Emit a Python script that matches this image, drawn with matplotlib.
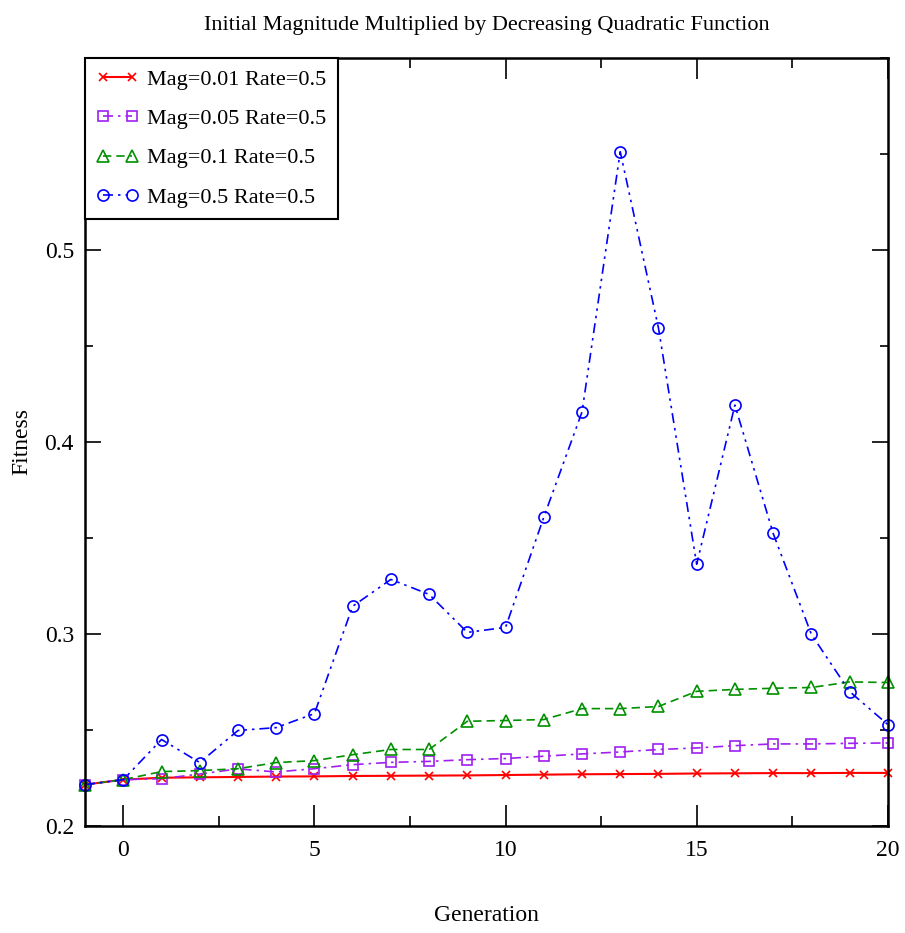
import numpy as np
import matplotlib
matplotlib.use("Agg")
import matplotlib.pyplot as plt
from matplotlib.ticker import MultipleLocator

plt.rcParams['font.family'] = ['Liberation Serif', 'DejaVu Serif']

generation = np.arange(-1, 21)

mag_001 = [0.2214, 0.2240, 0.2250, 0.2252, 0.2254, 0.2256, 0.2257, 0.2259, 0.2260, 0.2261, 0.2262,
           0.2264, 0.2266, 0.2268, 0.2269, 0.2270, 0.2272, 0.2273, 0.2274, 0.2274, 0.2275, 0.2275]
mag_005 = [0.2214, 0.2240, 0.2245, 0.2269, 0.2296, 0.2280, 0.2297, 0.2318, 0.2330, 0.2335, 0.2344,
           0.2350, 0.2362, 0.2374, 0.2384, 0.2397, 0.2405, 0.2417, 0.2426, 0.2426, 0.2429, 0.2431]
mag_01 = [0.2214, 0.2240, 0.2282, 0.2287, 0.2297, 0.2329, 0.2339, 0.2370, 0.2397, 0.2397, 0.2544,
          0.2548, 0.2553, 0.2610, 0.2610, 0.2621, 0.2700, 0.2710, 0.2716, 0.2720, 0.2749, 0.2746]
mag_05 = [0.2214, 0.2240, 0.2449, 0.2329, 0.2496, 0.2511, 0.2584, 0.3143, 0.3283, 0.3205, 0.3007,
          0.3033, 0.3607, 0.4155, 0.5511, 0.4593, 0.3362, 0.4191, 0.3523, 0.2997, 0.2699, 0.2527]

labels = ['Mag=0.01 Rate=0.5', 'Mag=0.05 Rate=0.5', 'Mag=0.1 Rate=0.5', 'Mag=0.5 Rate=0.5']

fig = plt.figure(figsize=(9.05, 9.33), dpi=100)
ax = fig.add_axes([0.094, 0.115, 0.887, 0.823])

ax.plot(generation, mag_001, color='#ff0000', ls='-', lw=1.5, marker='x', ms=6, mew=1.2,
        clip_on=False, label=labels[0])
ax.plot(generation, mag_005, color='#a020f0', ls=(0, (6, 3, 1.5, 3)), lw=1.2, marker='s', ms=7,
        mfc='none', mew=1.2, clip_on=False, label=labels[1])
ax.plot(generation, mag_01, color='#009000', ls=(0, (5, 3)), lw=1.2, marker='^', ms=8,
        mfc='none', mew=1.2, clip_on=False, label=labels[2])
ax.plot(generation, mag_05, color='#0000ff', ls=(0, (6, 3, 1.5, 3, 1.5, 3)), lw=1.2, marker='o', ms=8,
        mfc='none', mew=1.2, clip_on=False, label=labels[3])

ax.set_xlim(-1, 20)
ax.set_ylim(0.2, 0.6)
ax.set_xticks([0, 5, 10, 15, 20])
ax.xaxis.set_minor_locator(MultipleLocator(2.5))
ax.set_yticks([0.2, 0.3, 0.4, 0.5])
ax.set_yticklabels(['0.2', '0.3', '0.4', '0.5'])
ax.yaxis.set_minor_locator(MultipleLocator(0.05))
ax.tick_params(which='both', direction='in', top=True, right=True, labelsize=17, width=1.2)
ax.tick_params(axis='x', which='major', length=15, pad=10)
ax.tick_params(axis='x', which='minor', length=7.5)
ax.tick_params(axis='y', which='major', length=11.5, pad=8)
ax.tick_params(axis='y', which='minor', length=5.8)
for s in ax.spines.values():
    s.set_linewidth(1.8)

ax.set_title('Initial Magnitude Multiplied by Decreasing Quadratic Function', fontsize=16, pad=20)
ax.set_xlabel('Generation', fontsize=17, labelpad=32)
ax.set_ylabel('Fitness', fontsize=17)
ax.yaxis.set_label_coords(-0.066, 0.5)

leg = ax.legend(loc='upper left', fontsize=16, borderaxespad=0, fancybox=False, framealpha=1,
                edgecolor='black', numpoints=2, handlelength=1.9, handletextpad=0.4,
                labelspacing=0.85, borderpad=0.5)
leg.get_frame().set_linewidth(1.5)

fig.savefig('out.png', dpi=100)
